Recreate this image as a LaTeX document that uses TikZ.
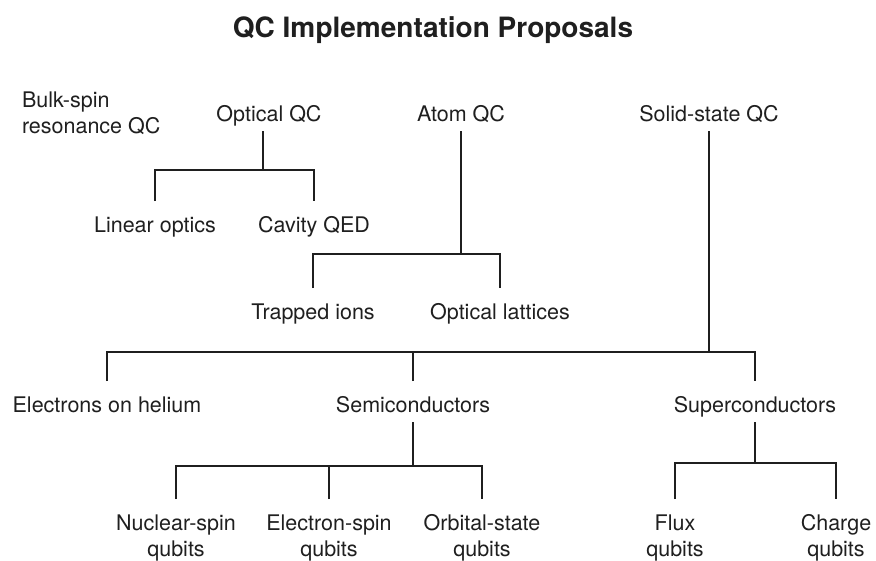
\documentclass[tikz,border=0pt]{standalone}
\usepackage{fontspec}
\setmainfont{TeX Gyre Heros}
\usetikzlibrary{calc}

\begin{document}
\begin{tikzpicture}[x=1pt,y=-1pt,line width=1.4pt,color={black!88},
  lbl/.style={inner sep=0pt,outer sep=5pt,text height=26pt,text depth=5pt,
    font=\fontsize{21.5}{26}\selectfont,align=center,anchor=base},
  leaf/.style={lbl,text height=52pt},
  ttl/.style={inner sep=0pt,font=\fontsize{28}{34}\selectfont\bfseries,anchor=base}]
\useasboundingbox (0,0) rectangle (876,560);

\node[ttl](title) at(433,37){QC Implementation Proposals};

\node[lbl,align=left,anchor=base west](bulk) at(17,133){Bulk-spin\\resonance QC};
\node[lbl](oqc) at(269,121){Optical QC};
\node[lbl](aqc) at(461,121){Atom QC};
\node[lbl](sqc) at(709,121){Solid-state QC};

\node[lbl](lin) at(155,232){Linear optics};
\node[lbl](cav) at(314,232){Cavity QED};
\node[lbl](trap) at(313,319){Trapped ions};
\node[lbl](latt) at(500,319){Optical lattices};

\node[lbl](elec) at(107,412){Electrons on helium};
\node[lbl](semi) at(413,412){Semiconductors};
\node[lbl](supe) at(755,412){Superconductors};

% two-line leaves, base = last line
\node[leaf](nuc) at(176,556){Nuclear-spin\\qubits};
\node[leaf](ele) at(329,556){Electron-spin\\qubits};
\node[leaf](orb) at(482,556){Orbital-state\\qubits};
\node[leaf](flux) at(675,556){Flux\\qubits};
\node[leaf](chg) at(836,556){Charge\\qubits};

% bus junctions
\coordinate(oqcbus) at($(oqc.south |- 0,170)+(-6,0)$);
\coordinate(aqcbus) at(aqc.south |- 0,254);
\coordinate(sqcbus) at(sqc.south |- 0,352);
\coordinate(semibus) at(semi.south |- 0,466);
\coordinate(supebus) at(supe.south |- 0,463);

\draw([xshift=-6pt]oqc.south)--(oqcbus);
\draw(lin.north)|-(oqcbus)-|(cav.north);

\draw(aqc.south)--(aqcbus);
\draw(trap.north)|-(aqcbus)-|(latt.north);

\draw(sqc.south)--(sqcbus);
\draw(elec.north)|-(sqcbus)-|(supe.north);
\draw(semi.north)--(semi.north |- sqcbus);

\draw(semi.south)--(semibus);
\draw(nuc.north)|-(semibus)-|(orb.north);
\draw(ele.north)--(ele.north |- semibus);

\draw(supe.south)--(supebus);
\draw(flux.north)|-(supebus)-|(chg.north);

\end{tikzpicture}
\end{document}
